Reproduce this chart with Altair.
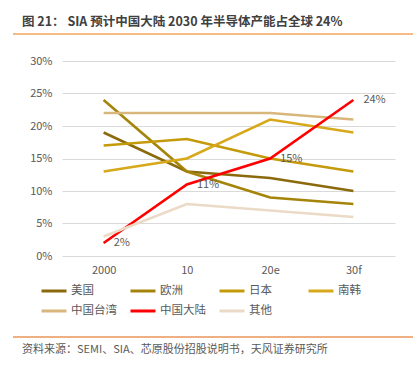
import altair as alt
import pandas as pd

years = ["2000", "10", "20e", "30f"]
regions = ["美国", "欧洲", "日本", "南韩", "中国台湾", "中国大陆", "其他"]
colors = ["#8A6A0C", "#A5840A", "#C49A0B", "#D6A81A", "#D9B67C", "#FF0000", "#EBDAC6"]
us = [19, 13, 12, 10]
eu = [24, 13, 9, 8]
jp = [17, 18, 15, 13]
kr = [13, 15, 21, 19]
tw = [22, 22, 22, 21]
cn = [2, 11, 15, 24]
other = [3, 8, 7, 6]
series = [us, eu, jp, kr, tw, cn, other]
cn_labels = ["2%", "11%", "15%", "24%"]
y_ticks = [0, 5, 10, 15, 20, 25, 30]

title_text = "图 21：  SIA 预计中国大陆 2030 年半导体产能占全球 24%"
source_text = "资料来源：SEMI、SIA、芯原股份招股说明书，天风证券研究所"

rows = []
for r, vals in zip(regions, series):
    for i, (yv, v) in enumerate(zip(years, vals)):
        rows.append({"year": yv, "region": r, "value": v / 100, "order": i})
df = pd.DataFrame(rows)
lab = pd.DataFrame({"year": years, "value": [v / 100 for v in cn], "label": cn_labels})

W, H = 333, 195
font = "Noto Sans CJK SC"

xscale = alt.Scale(type="point", padding=0.5)
yscale = alt.Scale(domain=[0, 0.3])

x = alt.X("year:N", sort=years, scale=xscale,
          axis=alt.Axis(title=None, labelAngle=0, domain=False, ticks=False,
                        labelPadding=8, labelFontSize=11, labelColor="#595959", grid=False,
                        labelFont=font))
y = alt.Y("value:Q", scale=yscale,
          axis=alt.Axis(title=None, format=".0%", values=[t / 100 for t in y_ticks],
                        labelOverlap=False, domain=False, ticks=False, labelPadding=10,
                        labelFontSize=11, labelColor="#595959", gridColor="#D9D9D9",
                        gridWidth=1, labelFont=font))

lines = alt.Chart(df).mark_line(strokeWidth=2.6).encode(
    x=x, y=y,
    color=alt.Color("region:N", sort=regions,
                    scale=alt.Scale(domain=regions, range=colors),
                    legend=alt.Legend(title=None, orient="none", legendX=-22, legendY=216,
                                      columns=4, direction="horizontal", symbolType="stroke",
                                      symbolSize=625, symbolStrokeWidth=3, gridAlign="all",
                                      columnPadding=7, rowPadding=0, labelFontSize=11.5,
                                      labelColor="#595959", labelOffset=3, labelFont=font,
                                      symbolOffset=0)),
    order="order:Q",
)

labels = alt.Chart(lab).mark_text(align="left", dx=10, fontSize=11, color="#595959",
                                  font=font).encode(
    x=x, y=y,
    text="label:N",
)

deco = pd.DataFrame({"k": [0]})
title = alt.Chart(deco).mark_text(align="left", baseline="middle", fontSize=12.5,
                                  fontWeight="bold", color="#404040", font=font).encode(
    x=alt.value(-40), y=alt.value(-39), text=alt.value(title_text))
source = alt.Chart(deco).mark_text(align="left", baseline="middle", fontSize=11,
                                   color="#595959", font=font).encode(
    x=alt.value(-40), y=alt.value(289), text=alt.value(source_text))
line1 = alt.Chart(deco).mark_rule(color="#F4A460", strokeWidth=1.3).encode(
    x=alt.value(-49), x2=alt.value(351), y=alt.value(-27))
line2 = alt.Chart(deco).mark_rule(color="#E8955A", strokeWidth=1.3).encode(
    x=alt.value(-49), x2=alt.value(351), y=alt.value(276))

chart = alt.layer(lines, labels, title, source, line1, line2).properties(
    width=W, height=H,
    autosize=alt.AutoSizeParams(type="none"),
    padding={"left": 62, "top": 61, "right": 23, "bottom": 119},
    background="white",
).configure_view(stroke=None)

chart.save("out.html", embed_options={"renderer": "svg", "actions": False})
